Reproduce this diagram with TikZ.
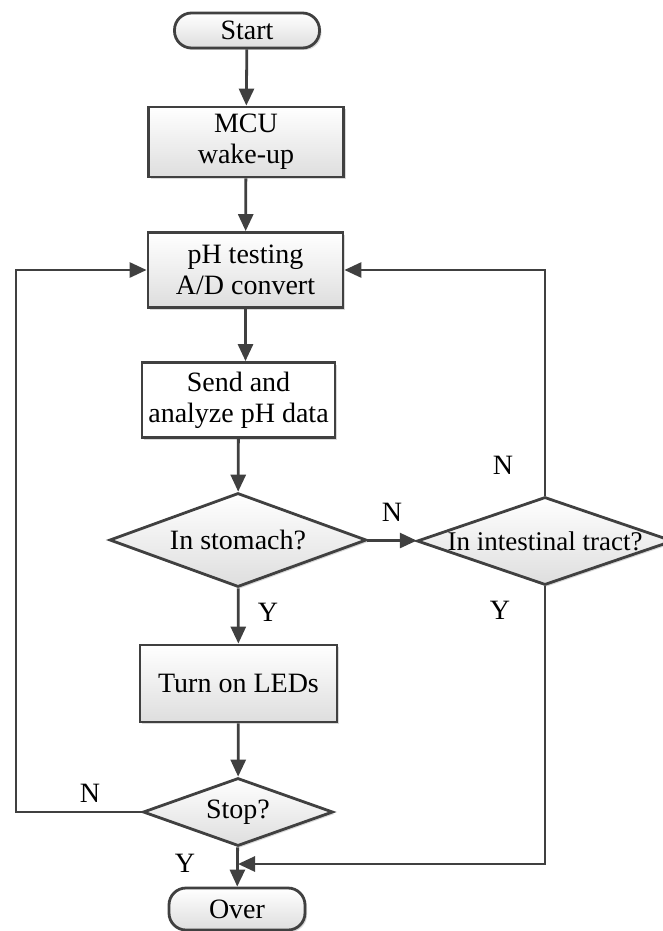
\documentclass[tikz,border=0pt]{standalone}
\usepackage{fontspec}
\setmainfont{Liberation Serif}
\usetikzlibrary{shapes.geometric, arrows.meta, shadows}

\tikzset{
	base/.style={draw=black!75, line width=2.8pt, align=center, font=\fontsize{28}{31}\selectfont,
		top color=white, bottom color=black!13,
		drop shadow={shadow xshift=2pt, shadow yshift=-2pt, fill=black!25, opacity=0.6}},
	block/.style={base, rectangle, minimum width=195pt, minimum height=75pt, inner sep=0pt},
	term/.style={base, rectangle, rounded corners=17pt, minimum width=145pt, minimum height=35pt, inner sep=0pt},
	decision/.style={base, diamond, inner sep=0pt, shape aspect=3},
	arr/.style={draw=black!75, line width=2.8pt, -{Triangle[length=17pt, width=15pt]}},
	lbl/.style={font=\fontsize{28}{31}\selectfont}
}

\begin{document}
\begin{tikzpicture}[x=1pt, y=-1pt]
	\useasboundingbox (0,0) rectangle (662,931);
	% Main column
	\node[term] (start) at (247,30.5) {Start};
	\node[block, minimum height=70pt] (mcu) at (246,142) {MCU\\wake-up};
	\node[block] (test) at (245.5,270) {pH testing\\A/D convert};
	\node[block, minimum width=193pt, top color=white, bottom color=white] (send) at (238.5,400) {Send and\\analyze pH data};
	\node[decision, minimum width=257pt, minimum height=94pt] (stomach) at (238,540) {In stomach?};
	\node[decision, minimum width=256pt, minimum height=88pt, font=\fontsize{27}{30}\selectfont] (intest) at (545,541) {\makebox[0pt][c]{In intestinal tract?}};
	\node[block, minimum width=197pt, minimum height=77pt] (leds) at (238.5,683.5) {Turn on LEDs};
	\node[decision, minimum width=190pt, minimum height=68pt] (stop) at (238,812) {Stop?};
	\node[term, minimum width=136pt, minimum height=42pt] (over) at (237,909) {Over};
	% Helper points
	\coordinate (lx) at (16,0);
	\coordinate (merge) at (238,864);
	% Connectors
	\draw[arr] (start) -- (mcu);
	\draw[arr] (mcu) -- (test);
	\draw[arr] (test) -- (test |- send.north);
	\draw[arr] (send) -- (stomach);
	\draw[arr] (stomach) -- (intest);
	\draw[arr] (stomach) -- (leds);
	\draw[arr] (leds) -- (stop);
	\draw[arr] (stop) -- (over);
	\draw[arr] (stop.west) -- (stop.west -| lx) |- (test.west);
	\draw[arr] (intest.north) |- (test.east);
	\draw[arr] (intest.south) |- (merge);
	% Labels
	\node[lbl] (nstom) at (392,512) {N};
	\node[lbl] (ystom) at (268,612) {Y};
	\node[lbl] (nint) at (503,465) {N};
	\node[lbl] (yint) at (500,610) {Y};
	\node[lbl] (nstop) at (90,793) {N};
	\node[lbl] (ystop) at (185,863) {Y};
\end{tikzpicture}
\end{document}
